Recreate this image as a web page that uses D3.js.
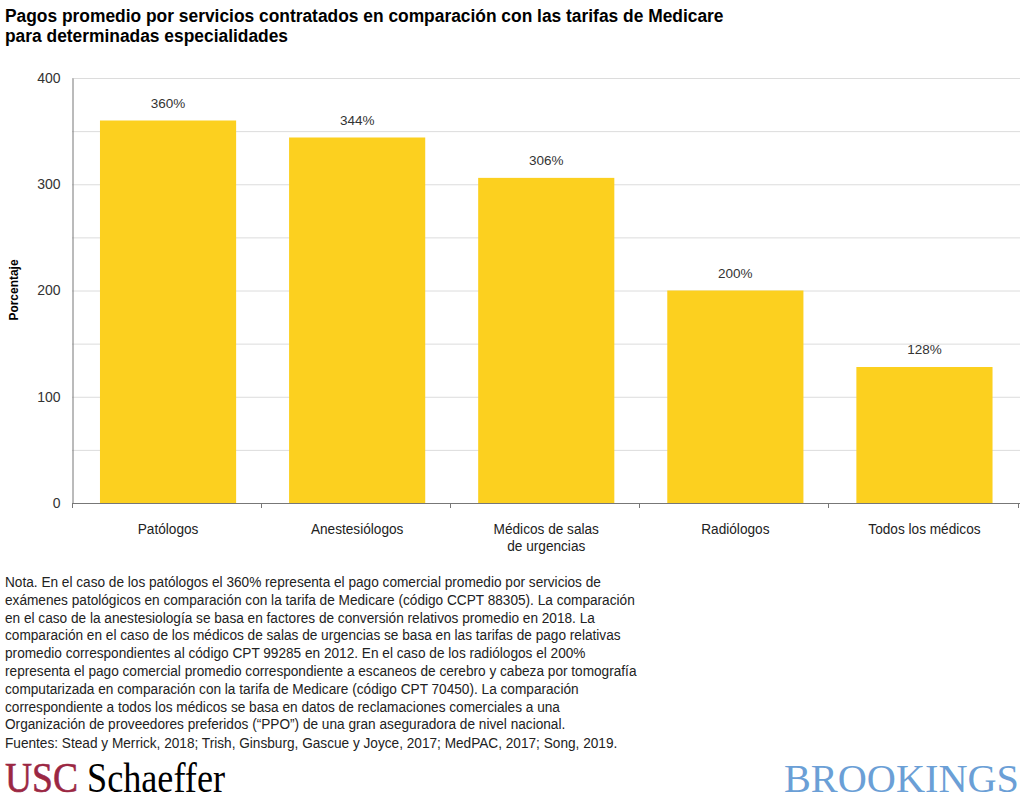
<!DOCTYPE html>
<html><head><meta charset="utf-8">
<script src="https://cdn.jsdelivr.net/npm/d3@7"></script>
<style>body{margin:0;background:#fff;} svg{display:block;}</style>
</head><body>
<svg id="c" width="1024" height="800"></svg>
<script>
const categories = [["Patólogos"], ["Anestesiólogos"], ["Médicos de salas", "de urgencias"], ["Radiólogos"], ["Todos los médicos"]];
const values = [360, 344, 306, 200, 128];
const valueLabels = ["360%", "344%", "306%", "200%", "128%"];
const yTicks = [0, 100, 200, 300, 400];
const gridValues = [50, 100, 150, 200, 250, 300, 350, 400];
const titleLines = ["Pagos promedio por servicios contratados en comparación con las tarifas de Medicare", "para determinadas especialidades"];
const noteLines = [
"Nota. En el caso de los patólogos el 360% representa el pago comercial promedio por servicios de",
"exámenes patológicos en comparación con la tarifa de Medicare (código CCPT 88305). La comparación",
"en el caso de la anestesiología se basa en factores de conversión relativos promedio en 2018. La",
"comparación en el caso de los médicos de salas de urgencias se basa en las tarifas de pago relativas",
"promedio correspondientes al código CPT 99285 en 2012. En el caso de los radiólogos el 200%",
"representa el pago comercial promedio correspondiente a escaneos de cerebro y cabeza por tomografía",
"computarizada en comparación con la tarifa de Medicare (código CPT 70450). La comparación",
"correspondiente a todos los médicos se basa en datos de reclamaciones comerciales a una",
"Organización de proveedores preferidos (“PPO”) de una gran aseguradora de nivel nacional."];
const sourceLine = "Fuentes: Stead y Merrick, 2018; Trish, Ginsburg, Gascue y Joyce, 2017; MedPAC, 2017; Song, 2019.";

const svg = d3.select("#c");
const sans = "'Liberation Sans', Arial, sans-serif";
const serif = "'Liberation Serif', 'Times New Roman', serif";
const mLeft = 72, mRight = 1019, mTop = 78, mBottom = 503;

const x = d3.scaleBand().domain(d3.range(values.length)).range([mLeft + 1.5, mRight]).paddingInner(0.28).paddingOuter(0.14);
const y = d3.scaleLinear().domain([0, 400]).range([mBottom, mTop]);

// title (condensed)
svg.append("g").attr("transform", "translate(5,0) scale(0.915,1)")
  .selectAll("text").data(titleLines).join("text")
  .attr("x", 0).attr("y", (d, i) => 22 + i * 20)
  .attr("font-family", sans).attr("font-weight", "bold").attr("font-size", 19).attr("fill", "#000")
  .text(d => d);

// gridlines
svg.append("g").selectAll("line").data(gridValues).join("line")
  .attr("x1", mLeft).attr("x2", mRight + 1).attr("y1", d => y(d) + 0.5).attr("y2", d => y(d) + 0.5)
  .attr("stroke", "#dcdcdc").attr("stroke-width", 1);

// bars
svg.append("g").selectAll("rect").data(values).join("rect")
  .attr("x", (d, i) => x(i)).attr("width", x.bandwidth())
  .attr("y", d => y(d)).attr("height", d => y(0) - y(d))
  .attr("fill", "#fcd01f");

// value labels
svg.append("g").selectAll("text").data(values).join("text")
  .attr("x", (d, i) => x(i) + x.bandwidth() / 2).attr("y", d => y(d) - 13)
  .attr("text-anchor", "middle").attr("font-family", sans)
  .attr("font-size", 13.5).attr("fill", "#333").text((d, i) => valueLabels[i]);

// y axis
const yAxis = d3.axisLeft(y).tickValues(yTicks).tickSize(0).tickPadding(12);
const ga = svg.append("g").attr("transform", `translate(${mLeft + 0.5},0)`).call(yAxis);
ga.select(".domain").attr("stroke", "#777");
ga.selectAll("text").attr("font-family", sans).attr("font-size", 14).attr("fill", "#333");

// x axis baseline and separators
const bounds = d3.range(values.length + 1).map(i => mLeft + i * x.step());
svg.append("line").attr("x1", mLeft).attr("x2", mRight + 1).attr("y1", mBottom + 0.5).attr("y2", mBottom + 0.5).attr("stroke", "#777");
svg.append("g").selectAll("line").data(bounds).join("line")
  .attr("x1", d => Math.round(d) + 0.5).attr("x2", d => Math.round(d) + 0.5)
  .attr("y1", mBottom).attr("y2", mBottom + 5).attr("stroke", "#777");

// category labels (condensed)
const cg = svg.append("g").selectAll("g").data(categories).join("g")
  .attr("transform", (d, i) => `translate(${x(i) + x.bandwidth() / 2},534) scale(0.91,1)`);
cg.append("text").attr("text-anchor", "middle").attr("font-family", sans).attr("font-size", 15).attr("fill", "#222")
  .selectAll("tspan").data(d => d).join("tspan")
  .attr("x", 0).attr("dy", (d, i) => i === 0 ? 0 : 17).text(d => d);

// y label
svg.append("text").attr("transform", "translate(18,290) rotate(-90) scale(0.92,1)")
  .attr("text-anchor", "middle").attr("font-family", sans).attr("font-weight", "bold")
  .attr("font-size", 13).attr("fill", "#000").text("Porcentaje");

// notes (condensed)
const ng = svg.append("g").attr("transform", "translate(5,0) scale(0.91,1)");
ng.selectAll("text.n").data(noteLines).join("text").attr("class", "n")
  .attr("x", 0).attr("y", (d, i) => 587 + i * 17.8)
  .attr("font-family", sans).attr("font-size", 15).attr("fill", "#222").text(d => d);
ng.append("text").attr("x", 0).attr("y", 748)
  .attr("font-family", sans).attr("font-size", 15).attr("fill", "#222").text(sourceLine);

// logos
svg.append("text").attr("x", 5).attr("y", 792).attr("font-family", serif).attr("font-size", 43)
  .attr("fill", "#9b2743").attr("stroke", "#9b2743").attr("stroke-width", 0.6)
  .attr("textLength", 73).attr("lengthAdjust", "spacingAndGlyphs").text("USC");
svg.append("text").attr("x", 87).attr("y", 792).attr("font-family", serif).attr("font-size", 43)
  .attr("fill", "#000").attr("textLength", 138).attr("lengthAdjust", "spacingAndGlyphs").text("Schaeffer");
svg.append("text").attr("x", 784).attr("y", 792).attr("font-family", serif).attr("font-size", 40)
  .attr("fill", "#6b9fd6").attr("textLength", 235).attr("lengthAdjust", "spacingAndGlyphs").text("BROOKINGS");
</script>
</body></html>
